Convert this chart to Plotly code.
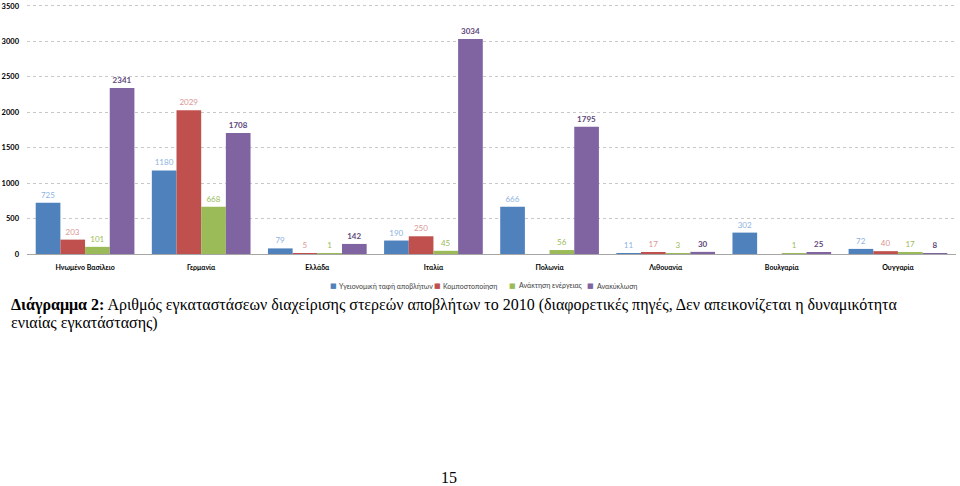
import plotly.graph_objects as go

countries = ["Ηνωμένο Βασίλειο", "Γερμανία", "Ελλάδα", "Ιταλία", "Πολωνία",
             "Λιθουανία", "Βουλγαρία", "Ουγγαρία"]
series_names = ["Υγειονομική ταφή αποβλήτων", "Κομποστοποίηση",
                "Ανάκτηση ενέργειας", "Ανακύκλωση"]
landfill = [725, 1180, 79, 190, 666, 11, 302, 72]
compost = [203, 2029, 5, 250, None, 17, None, 40]
energy = [101, 668, 1, 45, 56, 3, 1, 17]
recycling = [2341, 1708, 142, 3034, 1795, 30, 25, 8]
y_ticks = [0, 500, 1000, 1500, 2000, 2500, 3000, 3500]

bar_colors = ["#4F81BD", "#C0504D", "#9BBB59", "#8064A2"]
label_colors = ["#8DB3E2", "#DA9694", "#9BBB59", "#5F497A"]
all_series = [landfill, compost, energy, recycling]

W, H = 960, 486
L, R, T, B = 25, 4, 2, 232
pw, ph = W - L - R, H - T - B
y_top = 3500 * ph / 249.0   # keeps 3500 at ~5px from the top

def px_x(p):
    return (p - L) / pw

def px_y(p):
    return (H - B - p) / ph

SERIF = "Liberation Serif, DejaVu Serif, serif"
SANS = "Lato, sans-serif"

fig = go.Figure()
for i, (name, vals) in enumerate(zip(series_names, all_series)):
    bold = i == 3
    texts = [("" if v is None else (f"<b>{v}</b>" if bold else str(v))) for v in vals]
    fig.add_trace(go.Bar(
        x=countries, y=vals, name=name,
        marker=dict(color=bar_colors[i], line=dict(width=0)),
        text=texts, textposition="outside", cliponaxis=False,
        textfont=dict(family=SANS, size=8, color=label_colors[i]),
    ))

fig.update_layout(
    width=W, height=H,
    margin=dict(l=L, r=R, t=T, b=B, pad=0),
    paper_bgcolor="white", plot_bgcolor="white",
    barmode="group", bargap=0.15, bargroupgap=0,
    font=dict(family=SANS, size=8, color="#262626"),
    showlegend=False,
    uniformtext=dict(minsize=6),
)
fig.update_xaxes(showgrid=False, showline=True, linecolor="#A6A6A6", linewidth=1,
                 ticks="", tickfont=dict(size=7, color="#000000", family=SANS, weight="bold"),
                 ticklabelstandoff=7, ticklabeloverflow="allow")
fig.update_yaxes(range=[0, y_top], tickvals=y_ticks, showgrid=True,
                 gridcolor="#C8C8C8", griddash="dot", gridwidth=1,
                 zeroline=True, zerolinecolor="#A6A6A6", zerolinewidth=1,
                 showline=False, ticks="",
                 tickfont=dict(size=7.5, color="#000000", family=SANS, weight="bold"),
                 ticklabelstandoff=7, ticklabeloverflow="allow")

# Legend drawn as annotations: small coloured square + label text
legend_marker_px = [332, 436, 512, 590]
for name, col, mx in zip(series_names, bar_colors, legend_marker_px):
    fig.add_annotation(
        xref="paper", yref="paper", x=px_x(mx), y=px_y(286),
        xanchor="center", yanchor="middle", showarrow=False, borderpad=0,
        text="■", font=dict(family="DejaVu Sans", size=7, color=col))
    fig.add_annotation(
        xref="paper", yref="paper", x=px_x(mx + 5), y=px_y(286),
        xanchor="left", yanchor="middle", showarrow=False, borderpad=0,
        text=name, font=dict(family=SANS, size=7, color="#404040"))

# Caption
fig.add_annotation(
    xref="paper", yref="paper", x=px_x(8), y=px_y(305), xanchor="left", yanchor="middle",
    text="<b>Διάγραμμα 2:</b> Αριθμός εγκαταστάσεων διαχείρισης στερεών αποβλήτων το 2010 "
         "(διαφορετικές πηγές, Δεν απεικονίζεται η δυναμικότητα",
    showarrow=False, align="left", borderpad=0,
    font=dict(family=SERIF, size=16, color="#000000"))
fig.add_annotation(
    xref="paper", yref="paper", x=px_x(8), y=px_y(323), xanchor="left", yanchor="middle",
    text="ενιαίας εγκατάστασης)", showarrow=False, align="left", borderpad=0,
    font=dict(family=SERIF, size=16, color="#000000"))
fig.add_annotation(
    xref="paper", yref="paper", x=px_x(448), y=px_y(478), xanchor="center", yanchor="middle",
    text="15", showarrow=False, borderpad=0,
    font=dict(family=SERIF, size=16, color="#000000"))

fig.write_html("out.html")
